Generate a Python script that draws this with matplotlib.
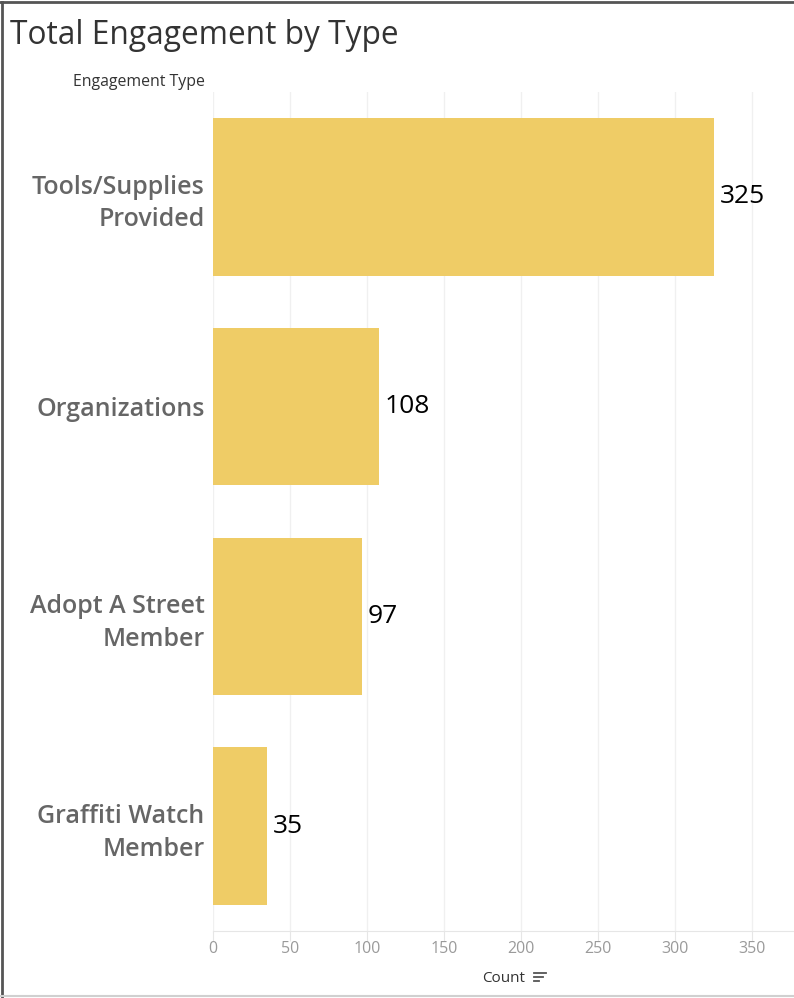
import matplotlib.pyplot as plt
from matplotlib.lines import Line2D

# data
categories = ['Tools/Supplies\nProvided', 'Organizations', 'Adopt A Street\nMember', 'Graffiti Watch\nMember']
counts = [325, 108, 97, 35]
xticks = [0, 50, 100, 150, 200, 250, 300, 350]

plt.rcParams['font.family'] = ['Open Sans', 'DejaVu Sans']

fig = plt.figure(figsize=(7.94, 9.98), dpi=100)
ax = fig.add_axes([213 / 794, 1 - 931 / 998, 1 - 213 / 794, (931 - 92) / 998])

ypos = list(range(len(categories)))
ax.barh(ypos, counts, height=0.75, color='#efcc66', zorder=2)
ax.set_ylim(len(categories) - 0.5, -0.5)
ax.set_xlim(0, 377)

for y, v in zip(ypos, counts):
    ax.annotate(str(v), (v, y), xytext=(4, 0), textcoords='offset points',
                ha='left', va='center', fontsize=19, color='black')

ax.set_yticks(ypos)
ax.set_yticklabels(categories, fontsize=18, color='#666666', linespacing=1.4,
                   fontweight='semibold')
ax.set_xticks(xticks)
ax.set_xticklabels([str(t) for t in xticks], fontsize=11.5, color='#9a9a9a')
ax.tick_params(axis='y', length=0, pad=6)
ax.tick_params(axis='x', length=7, color='#e6e6e6', pad=0)

for s in ['top', 'right', 'left']:
    ax.spines[s].set_visible(False)
ax.spines['bottom'].set_color('#e6e6e6')
ax.grid(axis='x', color='#f0f0f0', linewidth=1, zorder=0)
ax.set_axisbelow(True)

# title and headers
fig.text(10 / 794, 1 - 35 / 998, 'Total Engagement by Type', fontsize=22.8,
         color='#333333', ha='left', va='center', fontweight='medium')
fig.text(205 / 794, 1 - 82 / 998, 'Engagement Type', fontsize=11.4,
         color='#333333', ha='right', va='center')
fig.text(504 / 794, 1 - 979 / 998, 'Count', fontsize=11, color='#333333',
         ha='center', va='center')

# sort icon next to axis title
for i, w in enumerate([12, 9, 5]):
    yy = 1 - (973 + i * 4) / 998
    fig.add_artist(Line2D([534 / 794, (534 + w) / 794], [yy, yy],
                          color='#555555', linewidth=1.3))

# dashboard border
fig.add_artist(Line2D([2 / 794, 2 / 794], [0, 1 - 2 / 998], color='#555555', linewidth=2))
fig.add_artist(Line2D([0, 1], [1 - 2 / 998, 1 - 2 / 998], color='#555555', linewidth=2))
fig.add_artist(Line2D([0, 1], [2 / 998, 2 / 998], color='#d0d0d0', linewidth=1.5))

fig.savefig('out.png', dpi=100)
